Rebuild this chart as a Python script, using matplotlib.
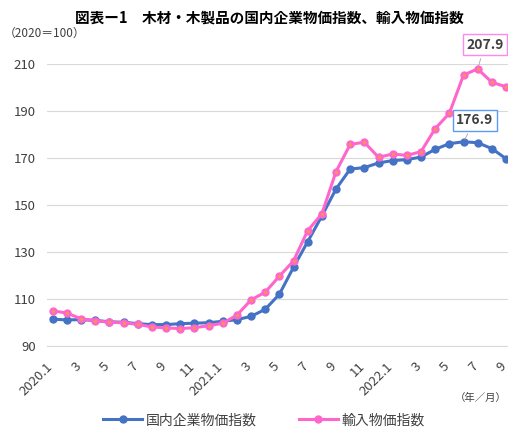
import numpy as np
import matplotlib.pyplot as plt
import matplotlib.transforms as mtransforms

plt.rcParams['font.family'] = ['Noto Sans CJK JP', 'DejaVu Sans']

# データ（2020.1〜2022.9、月次）
months = np.arange(33)
tick_labels = ['2020.1', '3', '5', '7', '9', '11',
               '2021.1', '3', '5', '7', '9', '11',
               '2022.1', '3', '5', '7', '9']
domestic = [101.4, 101.1, 101.2, 100.9, 100.3, 100.1, 99.5, 99.1, 99.1, 99.5, 99.7,
            99.9, 100.5, 101.2, 102.6, 105.6, 112.0, 123.5, 134.4, 145.3, 156.8,
            165.3, 165.9, 167.9, 168.9, 169.3, 170.4, 173.7, 176.1, 176.9, 176.5,
            174.0, 169.7]
imports = [105.0, 104.0, 101.6, 100.8, 100.1, 99.9, 99.2, 98.1, 97.7, 97.4, 97.8,
           98.6, 99.7, 103.1, 109.6, 112.9, 119.7, 126.2, 139.1, 146.2, 164.2,
           175.8, 176.7, 170.3, 171.7, 171.1, 172.7, 182.5, 189.0, 205.3, 207.9,
           202.2, 200.3]

blue = '#4472C4'
pink = '#FF66CC'
txt = '#404040'

fig = plt.figure(figsize=(5.08, 4.28), dpi=100)
ax = fig.add_axes([0.092, 0.1916, 0.908, 0.6589])

ax.plot(months, domestic, color=blue, lw=2.2, marker='o', ms=5,
        mfc=blue, mec=blue, clip_on=False, zorder=3, label='国内企業物価指数')
ax.plot(months, imports, color=pink, lw=2.2, marker='o', ms=5,
        mfc=pink, mec=pink, clip_on=False, zorder=4, label='輸入物価指数')
ax.plot(months, imports, ls='none', marker='o', ms=1.3, color='#F79646',
        clip_on=False, zorder=5)

ax.set_xlim(-0.42, 32.14)
ax.set_ylim(90, 210)
ax.set_yticks(np.arange(90, 211, 20))
ax.set_xticks(months[::2])
ax.set_xticklabels(tick_labels, rotation=45, ha='right', rotation_mode='anchor')
ax.tick_params(axis='both', length=0, labelsize=9.5, colors=txt)
ax.tick_params(axis='x', pad=10)
ax.tick_params(axis='y', pad=8)
shift = mtransforms.ScaledTranslation(-4.5 / 72, 0, fig.dpi_scale_trans)
for lab in ax.get_xticklabels():
    lab.set_transform(lab.get_transform() + shift)
ax.grid(axis='y', color='#D9D9D9', lw=0.8)
ax.set_axisbelow(True)
for s in ['top', 'right', 'left']:
    ax.spines[s].set_visible(False)
ax.spines['bottom'].set_color('#D9D9D9')

# 注記ラベル
ax.annotate('207.9', xy=(30, 207.9), xytext=(30.5, 218.1), ha='center', va='center',
            fontsize=10, fontweight='bold', color=txt, annotation_clip=False,
            bbox=dict(boxstyle='square,pad=0.25', fc='white', ec='#FF88EE', lw=1),
            arrowprops=dict(arrowstyle='-', color='#A6A6A6', lw=0.6))
ax.annotate('176.9', xy=(29, 176.9), xytext=(29.8, 186.0), ha='center', va='center',
            fontsize=10, fontweight='bold', color=txt, annotation_clip=False,
            bbox=dict(boxstyle='square,pad=0.25', fc='white', ec='#5B9BF5', lw=1),
            arrowprops=dict(arrowstyle='-', color='#A6A6A6', lw=0.6))

fig.text(0.53, 0.958, '図表ー1　木材・木製品の国内企業物価指数、輸入物価指数',
         ha='center', va='center', fontsize=10.5, fontweight='bold', color='black')
fig.text(0.008, 0.922, '（2020＝100）', ha='left', va='center', fontsize=8.5, color=txt)
fig.text(0.998, 0.07, '（年／月）', ha='right', va='center', fontsize=7.5, color=txt)

fig.legend(loc='center', bbox_to_anchor=(0.52, 0.018), ncol=2, frameon=False,
           fontsize=10, labelcolor=txt, handlelength=2.8, columnspacing=3,
           handletextpad=0.3)

fig.savefig('out.png', dpi=100)
